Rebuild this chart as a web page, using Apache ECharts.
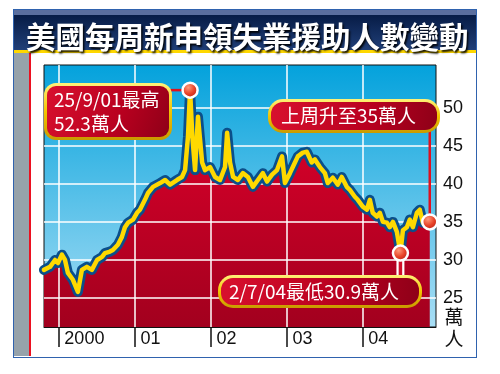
<!DOCTYPE html>
<html><head><meta charset="utf-8">
<script src="https://cdn.jsdelivr.net/npm/echarts@6/dist/echarts.min.js"></script>
<style>
html{background:#fff}
body{margin:0;padding:0;background:transparent}
#wrap{position:relative;width:500px;height:374px}
#c{position:absolute;left:0;top:0;width:500px;height:374px;z-index:2}
.d{position:absolute;z-index:1}
</style>
</head><body><div id="wrap">
<div class="d" style="left:13px;top:9px;width:462px;height:347px;border:1px solid #2f62ae;background:#fff"></div>
<div class="d" style="left:14px;top:53px;width:15px;height:303px;background:#96a2aa"></div>
<div class="d" style="left:29px;top:53px;width:2px;height:303px;background:#ec1020"></div>
<div class="d" style="left:14px;top:10px;width:462px;height:5px;background:#5a6e9e"></div>
<div class="d" style="left:14px;top:15px;width:462px;height:35px;background:linear-gradient(#071c46,#203f78)"></div>
<div class="d" style="left:14px;top:49.5px;width:462px;height:3.8px;background:#ffd800"></div>
<div class="d" style="left:44px;top:65px;width:392px;height:262px;background:linear-gradient(#04a2dc,#a8def5)"></div>
<div id="c"></div>
</div>
<script>
// ---- data (weekly initial jobless claims, 萬人) ----
const titleText = '美國每周新申領失業援助人數變動';
const dates = ['1999-10-24','1999-11-22','1999-12-16','1999-12-30','2000-01-18','2000-02-02','2000-02-16','2000-03-11','2000-04-04','2000-04-23','2000-05-17','2000-06-10','2000-07-05','2000-07-29','2000-08-12','2000-09-05','2000-09-19','2000-10-13','2000-11-01','2000-11-16','2000-12-01','2000-12-25','2001-01-13','2001-01-27','2001-02-20','2001-03-07','2001-03-31','2001-05-04','2001-05-28','2001-06-21','2001-07-24','2001-08-17','2001-09-01','2001-09-15','2001-09-25','2001-10-06','2001-10-19','2001-11-02','2001-11-22','2001-12-06','2001-12-30','2002-01-23','2002-02-16','2002-03-12','2002-03-22','2002-04-05','2002-04-20','2002-05-13','2002-06-06','2002-06-30','2002-07-24','2002-08-17','2002-09-10','2002-09-30','2002-10-24','2002-11-17','2002-12-11','2002-12-25','2003-01-18','2003-02-11','2003-02-25','2003-03-21','2003-04-09','2003-05-03','2003-05-18','2003-06-11','2003-07-05','2003-07-19','2003-08-12','2003-09-05','2003-09-24','2003-10-18','2003-11-02','2003-11-26','2003-12-10','2004-01-03','2004-01-23','2004-02-06','2004-02-20','2004-03-11','2004-03-25','2004-04-09','2004-04-28','2004-05-12','2004-05-27','2004-06-15','2004-07-02','2004-07-14','2004-08-02','2004-08-16','2004-08-31','2004-09-19','2004-10-03','2004-10-18','2004-11-06','2004-11-20'];
const values = [28.7,29.1,30.0,29.6,30.7,30.0,28.3,27.4,25.8,28.7,29.1,28.7,30.0,30.4,30.9,31.1,31.3,32.0,33.0,34.3,34.9,35.3,36.2,36.6,37.9,38.8,39.6,40.1,40.5,39.9,40.5,40.9,41.8,46.2,52.3,46.2,41.8,48.8,42.8,41.8,42.2,40.9,40.5,42.2,46.7,42.8,40.9,40.5,41.4,40.9,39.6,40.5,41.4,40.3,41.2,41.8,43.6,40.1,41.4,42.8,43.6,44.1,44.2,42.8,43.2,42.2,41.4,40.1,40.8,39.9,40.9,39.6,39.2,38.3,37.9,37.0,36.6,37.9,36.2,35.7,36.2,35.0,34.9,34.3,35.0,33.7,30.9,33.9,34.3,35.3,34.3,36.2,36.6,34.9,35.3,35.0];
const yTickLabels = [25,30,35,40,45,50];
const yearTicks = ['2000-01-01','2001-01-01','2002-01-01','2003-01-01','2004-01-01'];
const yUnit = '萬\n人';
const peakPoint = ['2001-09-25', 52.3];
const lowPoint = ['2004-07-02', 30.9];
const lastPoint = ['2004-11-20', 35.0];
const peakText = '25/9/01最高\n52.3萬人';
const lastText = '上周升至35萬人';
const lowText = '2/7/04最低30.9萬人';

const seriesData = dates.map((d, i) => [d, values[i]]);
const gridLines = yTickLabels.map(v => ({yAxis: v})).concat(yearTicks.map(d => ({xAxis: d})));
const chart = echarts.init(document.getElementById('c'), null, {renderer: 'canvas'});
const G = echarts.graphic;
const ballColor = new G.RadialGradient(0.4, 0.35, 0.7, [{offset: 0, color: '#ff9a7a'}, {offset: 0.5, color: '#e8452a'}, {offset: 1, color: '#b01810'}]);
const FONT = '"Liberation Sans", Arial, sans-serif';
const CJK = '"Noto Sans CJK TC", "Noto Sans CJK SC", sans-serif';

chart.setOption({
  animation: false,
  backgroundColor: 'transparent',
  title: {
    text: titleText, left: 21, top: 14, z: 20,
    textStyle: {color: '#fff', fontSize: 29.5, fontWeight: 'bold', fontFamily: CJK, lineHeight: 36,
      textShadowColor: 'rgba(0,0,0,0.9)', textShadowBlur: 2, textShadowOffsetX: 1.5, textShadowOffsetY: 1.5}
  },
  grid: {left: 44, right: 64, top: 65, bottom: 47, show: true, borderColor: '#111', borderWidth: 1, backgroundColor: 'transparent'},
  xAxis: {
    type: 'time', min: '1999-10-24', max: '2004-12-20',
    minInterval: 365 * 86400000, maxInterval: 366 * 86400000,
    axisLine: {show: true, lineStyle: {color: '#111', width: 1}},
    axisTick: {show: true, length: 20, lineStyle: {color: '#111', width: 1.5}},
    splitLine: {show: false},
    axisLabel: {
      show: true, align: 'left', margin: 3, padding: [0, 0, 0, 6], fontSize: 18, color: '#111', fontFamily: FONT,
      showMinLabel: false, showMaxLabel: false,
      formatter: function (v) {
        const d = new Date(v);
        if (d.getMonth() !== 0 || d.getDate() !== 1) return '';
        const y = d.getFullYear();
        return y === 2000 ? '2000' : String(y).slice(2);
      }
    }
  },
  yAxis: {
    type: 'value', position: 'right', min: 21.2, max: 55.6, splitNumber: 7,
    axisLine: {show: false}, axisTick: {show: false},
    splitLine: {show: false},
    axisLabel: {
      margin: 7, fontSize: 18, color: '#111', fontFamily: FONT,
      formatter: function (v) { return yTickLabels.indexOf(Math.round(v * 10) / 10) >= 0 ? String(v) : ''; }
    }
  },
  series: [
    {
      type: 'line', data: seriesData, symbol: 'none', z: 1,
      lineStyle: {width: 0, opacity: 0},
      areaStyle: {origin: 'start', opacity: 1,
        color: new G.LinearGradient(0, 0, 0, 1, [{offset: 0, color: '#e2002c'}, {offset: 1, color: '#a2001e'}])},
      markLine: {
        z: 1.5, silent: true, symbol: ['none', 'none'], label: {show: false}, animation: false,
        lineStyle: {color: '#fff', width: 1.5, type: 'solid', opacity: 1},
        emphasis: {disabled: true},
        data: gridLines
      }
    },
    {
      type: 'line', data: seriesData, symbol: 'none', z: 2,
      lineStyle: {color: '#0b4f8a', width: 10, join: 'round', cap: 'round'}
    },
    {
      type: 'line', data: seriesData, symbol: 'none', z: 3,
      lineStyle: {color: '#ffd900', width: 4.5, join: 'round', cap: 'round'},
      markPoint: {
        z: 10, symbol: 'circle', symbolSize: 15, label: {show: false},
        itemStyle: {color: ballColor, borderColor: '#fff', borderWidth: 2.5},
        data: [{coord: peakPoint}, {coord: lowPoint}, {coord: lastPoint}]
      }
    }
  ]
});

// annotations linked to key data points
function px(p) { return chart.convertToPixel({gridIndex: 0}, p); }
const pk = px(peakPoint), lo = px(lowPoint), la = px(lastPoint);
function box(x, y, w, h, r, text, fs, lh, tx) {
  return [
    {type: 'rect', z: 20, silent: true, shape: {x: x, y: y, width: w, height: h, r: r},
      style: {fill: new G.LinearGradient(0, 0, 0, 1, [{offset: 0, color: '#fff27a'}, {offset: 0.5, color: '#f2c400'}, {offset: 1, color: '#c89a00'}])}},
    {type: 'rect', z: 21, silent: true, shape: {x: x + 3, y: y + 3, width: w - 6, height: h - 6, r: Math.max(r - 3, 2)},
      style: {fill: new G.LinearGradient(0, 0, 1, 1, [{offset: 0, color: '#d8102e'}, {offset: 0.6, color: '#b8001f'}, {offset: 1, color: '#8e0018'}])}},
    {type: 'text', z: 22, silent: true, style: {x: tx, y: y + h / 2, text: text, fill: '#fff', fontSize: fs, lineHeight: lh,
      fontFamily: CJK, align: 'left', verticalAlign: 'middle'}}
  ];
}
const extra = [];
extra.push({type: 'line', z: 8, silent: true, shape: {x1: 170, y1: pk[1], x2: pk[0], y2: pk[1]}, style: {stroke: '#e0101e', lineWidth: 2.5}});
extra.push({type: 'line', z: 8, silent: true, shape: {x1: la[0], y1: 130, x2: la[0], y2: la[1]}, style: {stroke: '#e0101e', lineWidth: 2.5}});
extra.push({type: 'line', z: 8, silent: true, shape: {x1: lo[0], y1: lo[1], x2: lo[0], y2: 278}, style: {stroke: '#fff', lineWidth: 8}});
extra.push({type: 'line', z: 9, silent: true, shape: {x1: lo[0], y1: lo[1], x2: lo[0], y2: 278}, style: {stroke: '#d0102a', lineWidth: 3.5}});
Array.prototype.push.apply(extra, box(44, 83, 128, 57, 12, peakText, 19, 24, 54));
Array.prototype.push.apply(extra, box(268, 99, 172, 34, 15, lastText, 19, 22, 281));
Array.prototype.push.apply(extra, box(218, 275, 204, 33, 15, lowText, 19, 22, 229));
extra.push({type: 'text', z: 5, silent: true, style: {x: 454, y: 306, text: yUnit, fill: '#111', fontSize: 19, fontFamily: CJK, align: 'center', lineHeight: 22}});
chart.setOption({graphic: {elements: extra}});
</script>
</body></html>
